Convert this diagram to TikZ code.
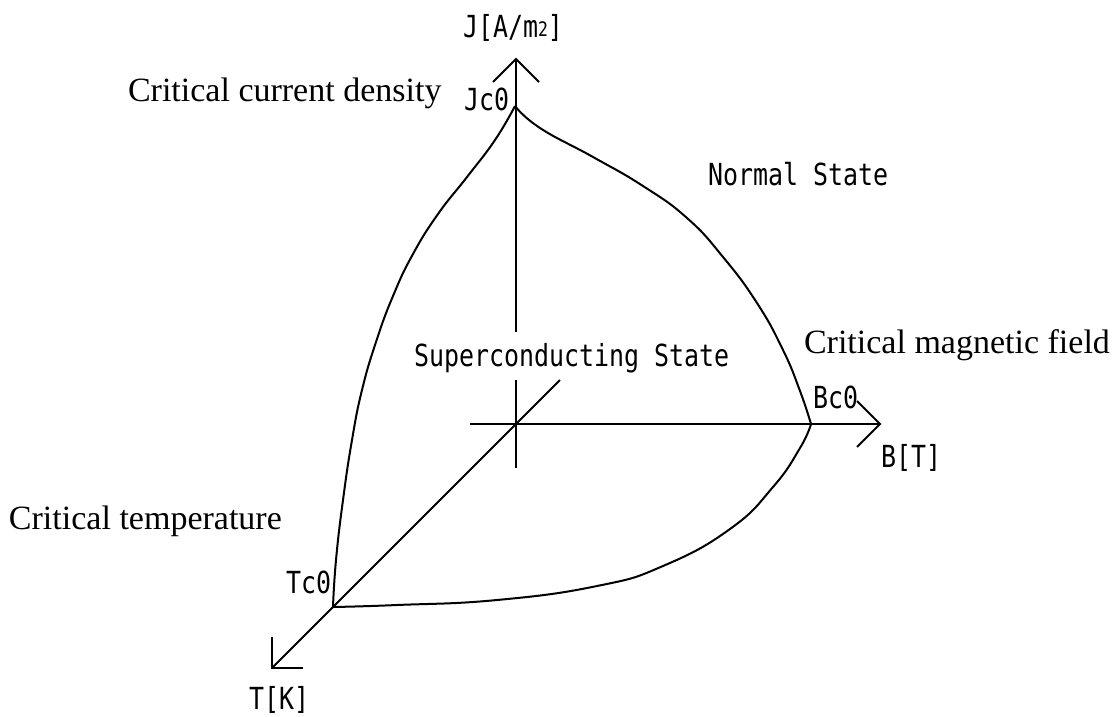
\documentclass[tikz,border=0pt]{standalone}
\usepackage{fontspec}
\setmainfont{Liberation Serif}
\newfontfamily\gfont[FakeStretch=0.82]{DejaVu Sans Mono}
\begin{document}
\begin{tikzpicture}[x=1pt,y=-1pt,
  line width=2pt,
  curve/.style={line width=2pt, line join=round},
  glab/.style={font=\gfont\fontsize{30.4}{32}\selectfont, inner sep=0pt, anchor=base west},
  slab/.style={font=\fontsize{34}{36}\selectfont, inner sep=0pt, anchor=base west}]
\useasboundingbox (0,0) rectangle (1115,716);
% key points
\coordinate (O) at (516,424);
\coordinate (Jtip) at (516,59);
\coordinate (Btip) at (880,424);
\coordinate (Ttip) at (272,668);
\coordinate (Jbot) at (516,468);
\coordinate (Jgapb) at (516,380);
\coordinate (Jgapt) at (516,332);
\coordinate (Bleft) at (470,424);
\coordinate (Dend) at (560,380);
\coordinate (Jc0) at (515,106);
\coordinate (Bc0) at (811,424);
\coordinate (Tc0) at (333,607);
% axes
\draw (Jbot) -- (Jgapb);
\draw (Jgapt) -- (Jtip);
\draw (Bleft) -- (Btip);
\draw (Ttip) -- (Dend);
% open arrowheads
\draw (Jtip) ++(-23,23) -- (Jtip) -- ++(23,23);
\draw (Btip) ++(-23,-23) -- (Btip) -- ++(-23,23);
\draw (Ttip) ++(0,-31) -- (Ttip) -- ++(31,0);
% critical surface boundaries
\draw[curve] plot[smooth, tension=0.8] coordinates {(Jc0) (495,140) (467,177) (438,214) (413,254) (393,296) (376,342) (362,390) (352,440) (343,500) (336,560) (Tc0)};
\draw[curve] plot[smooth, tension=0.8] coordinates {(Jc0) (540,128) (593,157) (643,186) (687,218) (723,257) (757,303) (783,350) (800,391) (Bc0)};
\draw[curve] plot[smooth, tension=0.8] coordinates {(Bc0) (800,448) (773,487) (730,529) (663,566) (597,586) (497,600) (397,605) (Tc0)};
% labels
\node[glab] (lJ) at (462,37) {J[A/m{\fontsize{20}{21}\selectfont\raisebox{1pt}{2}}]};
\node[glab] (lJc) at (463,110) {Jc0};
\node[glab] (lBc) at (812,408) {Bc0};
\node[glab] (lB) at (880,467) {B[T]};
\node[glab] (lTc) at (285,593) {Tc0};
\node[glab] (lT) at (248,709) {T[K]};
\node[glab] (lS) at (413,366) {Superconducting State};
\node[glab] (lN) at (707,185) {Normal State};
\node[slab] (cJ) at (127,101) {Critical current density};
\node[slab] (cB) at (803,353) {Critical magnetic field};
\node[slab] (cT) at (8,529) {Critical temperature};
\end{tikzpicture}
\end{document}
